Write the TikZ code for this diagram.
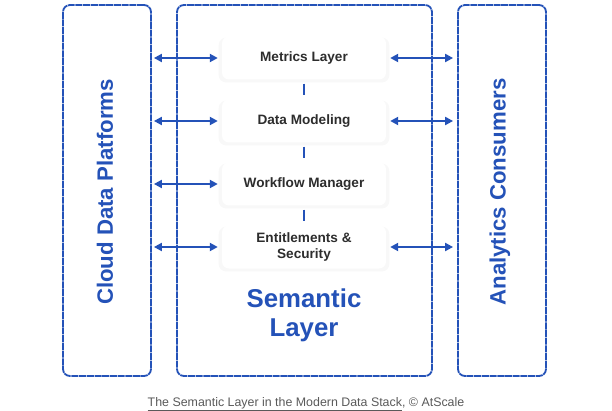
\documentclass[tikz,border=0pt]{standalone}
\usepackage{fontspec}
\setmainfont{Liberation Sans}
\usetikzlibrary{arrows.meta,shadows}
\definecolor{sblue}{RGB}{36,82,184}
\definecolor{txtgray}{RGB}{45,45,45}
\definecolor{capgray}{RGB}{90,90,90}
\tikzset{
  outerbox/.style={draw=sblue, line width=1.8pt, rounded corners=7pt, dash pattern=on 7pt off 0.7pt},
  layerbox/.style={fill=white, rounded corners=7pt, minimum width=164pt, minimum height=43pt, align=center,
    font=\bfseries\fontsize{13.6}{15.5}\selectfont, text=txtgray,
    drop shadow={shadow xshift=0pt, shadow yshift=-2pt, opacity=0.05, shadow scale=1.04}},
  biarrow/.style={draw=sblue, line width=2pt, {Triangle[length=8pt,width=8pt]}-{Triangle[length=8pt,width=8pt]}},
  link/.style={draw=sblue, line width=1.6pt},
  sidetext/.style={text=sblue, font=\bfseries\fontsize{22.2}{26}\selectfont, rotate=90},
}
\begin{document}
\begin{tikzpicture}[x=1pt,y=-1pt]
\useasboundingbox[fill=white] (0,0) rectangle (612,411);
% outer boxes
\node[outerbox, minimum width=88pt, minimum height=371pt, inner sep=0pt] (left) at (107,190.5) {};
\node[outerbox, minimum width=255pt, minimum height=371pt, inner sep=0pt] (mid) at (304.5,190.5) {};
\node[outerbox, minimum width=88pt, minimum height=371pt, inner sep=0pt] (right) at (502,190.5) {};
\node[sidetext] (ltext) at (105,192) {Cloud Data Platforms};
\node[sidetext] (rtext) at (500,192) {Analytics Consumers};
% layer boxes
\node[layerbox] (m) at (304,58) {Metrics Layer};
\node[layerbox] (d) at (304,121) {Data Modeling};
\node[layerbox] (w) at (304,184) {Workflow Manager};
\node[layerbox, inner sep=2pt] (e) at (304,247) {Entitlements \&\\Security};
% vertical links
\path[link] ([yshift=-4pt]m.south) -- ([yshift=4pt]d.north);
\path[link] ([yshift=-4pt]d.south) -- ([yshift=4pt]w.north);
\path[link] ([yshift=-4pt]w.south) -- ([yshift=4pt]e.north);
% left arrows
\foreach \n in {m,d,w,e}{
  \coordinate (la\n) at (left.east |- \n.west);
  \path[biarrow] ([xshift=2pt]la\n) -- ([xshift=-4pt]\n.west);
}
\foreach \n in {m,d,e}{
  \coordinate (ra\n) at (right.west |- \n.east);
  \path[biarrow] ([xshift=4pt]\n.east) -- ([xshift=-4pt]ra\n);
}
\node[text=sblue, font=\bfseries\fontsize{25.8}{29}\selectfont, align=center] (sem) at (304,315) {Semantic\\Layer};
\node[text=capgray, font=\fontsize{12.4}{14}\selectfont, anchor=base] (cap) at (306,406) {\underline{The Semantic Layer in the Modern Data Stack}, © AtScale};
\end{tikzpicture}
\end{document}
